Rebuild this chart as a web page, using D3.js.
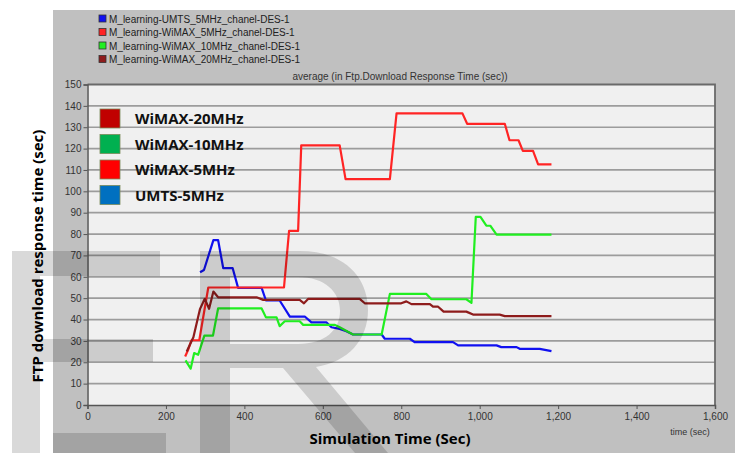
<!DOCTYPE html>
<html lang="en">
<head>
<meta charset="utf-8">
<script src="https://cdnjs.cloudflare.com/ajax/libs/d3/7.8.5/d3.min.js"></script>
<style>
  body { margin: 0; background: #fff; }
  svg { display: block; }
</style>
</head>
<body>
<script>
// ---- data ----
var seriesNames = ["M_learning-UMTS_5MHz_chanel-DES-1", "M_learning-WiMAX_5MHz_chanel-DES-1",
                   "M_learning-WiMAX_10MHz_chanel-DES-1", "M_learning-WiMAX_20MHz_chanel-DES-1"]
var seriesColors = ["#1010f0", "#ff2424", "#20ee20", "#8e1c1c"]

var umtsT = [287,297,321,333,346,370,384,444,455,490,516,554,571,609,622,643,660,677,750,758,822,834,932,945,1043,1055,1094,1102,1153,1183]
var umtsV = [62.1,63.2,77.2,77.2,64.1,64.1,54.8,54.8,48.9,48.9,41.4,41.4,38.7,38.7,36.4,35.6,34.5,33,33,31,31,29.4,29.4,27.9,27.9,27.1,27.1,26.3,26.3,25.2]

var wimax5T = [249,257,265,285,308,501,514,537,545,643,658,771,788,956,968,1064,1076,1099,1110,1136,1149,1183]
var wimax5V = [22.7,26,30.3,30.3,55,55,81.5,81.5,121.5,121.5,105.7,105.7,136.5,136.5,131.6,131.6,123.9,123.9,118.9,118.9,112.6,112.6]

var wimax10T = [250,263,272,282,298,320,333,444,455,482,490,503,541,550,631,643,677,750,771,864,877,966,979,990,1002,1017,1027,1043,1183]
var wimax10V = [20.9,17,24.3,23.5,32.5,32.5,45.2,45.2,41,41,36.9,39.2,39.2,37.5,37.5,36.4,33,33,52,52,49.5,49.5,47.8,88,88,83.9,83.9,79.7,79.7]

var wimax20T = [253,270,287,299,310,321,333,431,448,541,552,563,694,707,800,813,826,873,881,894,908,966,983,1051,1064,1183]
var wimax20V = [25,31.7,45,49.7,45,53.1,50.4,50.4,49.2,49.2,47.6,49.7,49.7,47.6,47.6,48.5,47.2,47.2,46,46,43.7,43.7,42.3,42.3,41.6,41.6]

var xTicks = [0,200,400,600,800,1000,1200,1400,1600]
var yTicks = d3.range(0, 151, 10)

var bigLegendNames = ["WiMAX-20MHz", "WiMAX-10MHz", "WiMAX-5MHz", "UMTS-5MHz"]
var bigLegendColors = ["#c00000", "#00b050", "#ff0000", "#0070c0"]

var chartTitle = "average (in Ftp.Download Response Time (sec))"

// ---- layout ----
var width = 736, height = 453
var x = d3.scaleLinear().domain([0, 1600]).range([87.5, 715])
var y = d3.scaleLinear().domain([0, 150]).range([405, 84.5])
var fontSmall = "'Liberation Sans', Arial, sans-serif"
var fontBig = "'Open Sans', 'Liberation Sans', sans-serif"

var svg = d3.select("body").append("svg")
  .attr("width", width).attr("height", height)

// grey panel
svg.append("rect").attr("x", 53).attr("y", 10).attr("width", 682).attr("height", 443).attr("fill", "#c0c0c0")

// plot background
svg.append("rect")
  .attr("x", x(0)).attr("y", y(150))
  .attr("width", x(1600) - x(0)).attr("height", y(0) - y(150))
  .attr("fill", "#f0f0f0")

// grid lines
svg.append("g").selectAll("line").data(yTicks.slice(1, -1)).join("line")
  .attr("x1", x(0)).attr("x2", x(1600))
  .attr("y1", d => y(d)).attr("y2", d => y(d))
  .attr("stroke", "#9c9c9c").attr("stroke-width", 1.7)

// frame top / right
svg.append("path")
  .attr("d", `M${x(0)},${y(150)}H${x(1600)}V${y(0)}`)
  .attr("fill", "none").attr("stroke", "#6a6a6a").attr("stroke-width", 1.8)

// axes
var yAxis = svg.append("g").attr("transform", `translate(${x(0)},0)`)
  .call(d3.axisLeft(y).tickValues(yTicks).tickSize(4).tickPadding(2))
var xAxis = svg.append("g").attr("transform", `translate(0,${y(0)})`)
  .call(d3.axisBottom(x).tickValues(xTicks).tickSize(4).tickPadding(4).tickFormat(d3.format(",")))
;[yAxis, xAxis].forEach(a => {
  a.select(".domain").attr("stroke", "#555").attr("stroke-width", 1.5)
  a.selectAll(".tick line").attr("stroke", "#555")
  a.selectAll("text").attr("fill", "#333").attr("font-family", fontSmall).attr("font-size", 10)
})

svg.append("text").attr("x", 690).attr("y", 435).attr("text-anchor", "middle")
  .attr("font-family", fontSmall).attr("font-size", 9).attr("fill", "#333").text("time (sec)")

svg.append("text").attr("x", 400).attr("y", 80).attr("text-anchor", "middle")
  .attr("font-family", fontSmall).attr("font-size", 10).attr("fill", "#333").text(chartTitle)

// top legend
var leg = svg.append("g").selectAll("g").data(seriesNames).join("g")
  .attr("transform", (d, i) => `translate(99,${15 + i * 13.5})`)
leg.append("rect").attr("width", 7).attr("height", 7)
  .attr("fill", (d, i) => seriesColors[i]).attr("stroke", "#333").attr("stroke-width", 0.8)
leg.append("text").attr("x", 10).attr("y", 7.5).attr("font-family", fontSmall).attr("font-size", 10)
  .attr("fill", "#222").text(d => d)

// series
var series = [[umtsT, umtsV], [wimax5T, wimax5V], [wimax10T, wimax10V], [wimax20T, wimax20V]]
var line = d3.line().x(d => x(d[0])).y(d => y(d[1]))
svg.append("g").selectAll("path").data(series).join("path")
  .attr("d", s => line(s[0].map((t, i) => [t, s[1][i]])))
  .attr("fill", "none")
  .attr("stroke", (d, i) => seriesColors[i])
  .attr("stroke-width", 2.2)
  .attr("stroke-linejoin", "round")

// big overlay legend
var bl = svg.append("g").selectAll("g").data(bigLegendNames).join("g")
  .attr("transform", (d, i) => `translate(100,${109 + i * 25.5})`)
bl.append("rect").attr("width", 20).attr("height", 19)
  .attr("fill", (d, i) => bigLegendColors[i]).attr("stroke", "#7a8a5a").attr("stroke-width", 0.8)
bl.append("text").attr("x", 35).attr("y", 15)
  .attr("font-family", fontBig).attr("font-weight", "bold").attr("font-size", 15)
  .attr("fill", "#111").text(d => d)

// axis titles
svg.append("text").attr("x", 390).attr("y", 444).attr("text-anchor", "middle")
  .attr("font-family", fontBig).attr("font-weight", "bold").attr("font-size", 15)
  .attr("fill", "#000").text("Simulation Time (Sec)")
svg.append("text").attr("transform", "translate(43,256) rotate(-90)").attr("text-anchor", "middle")
  .attr("font-family", fontBig).attr("font-weight", "bold").attr("font-size", 15)
  .attr("fill", "#000").text("FTP download response time (sec)")

// watermark letters
var wm = svg.append("g").attr("fill", "#000").attr("fill-opacity", 0.15).attr("fill-rule", "evenodd")
wm.append("path").attr("d", "M12,251H160V276H40V339H153V362H40V453H12Z")
wm.append("path").attr("d", "M53,433H166V453H53Z")
wm.append("path").attr("d",
  "M200,251H300C345,251 368,278 368,310C368,340 348,362 316,367L388,453H355L283,368H230V453H200Z" +
  "M230,277H298C325,277 340,292 340,311C340,330 325,344 298,344H230Z")
</script>
</body>
</html>
